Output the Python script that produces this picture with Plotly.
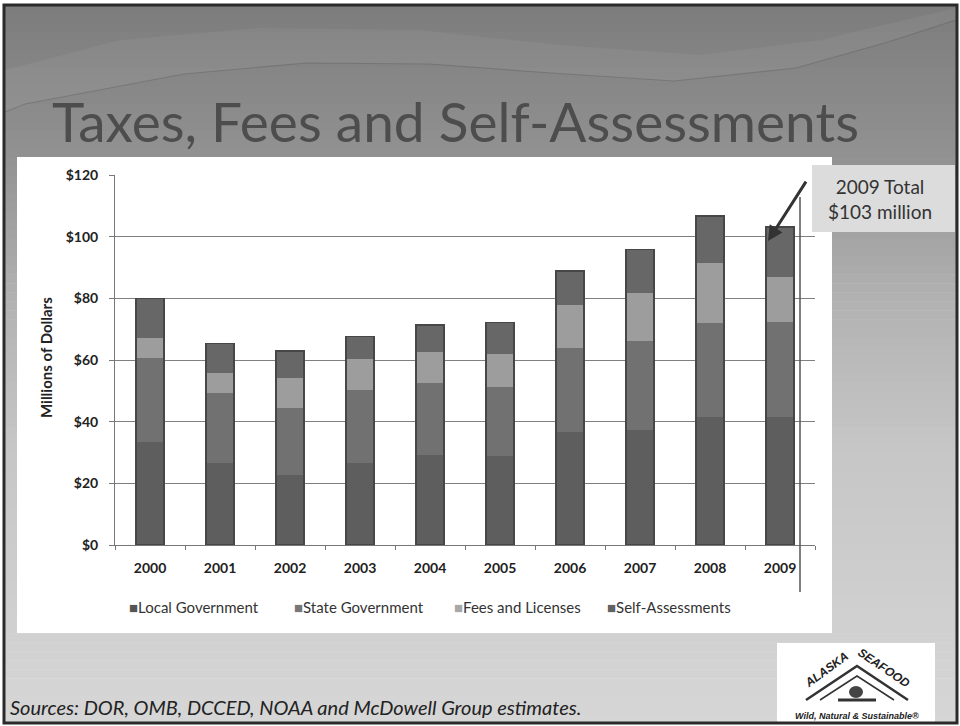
import plotly.graph_objects as go

# Seafood industry taxes, fees and self-assessments, millions of dollars
years = ["2000", "2001", "2002", "2003", "2004", "2005", "2006", "2007", "2008", "2009"]
local_government = [33.5, 26.5, 22.7, 26.5, 29.2, 28.9, 36.8, 37.3, 41.6, 41.6]
state_government = [27.0, 22.7, 21.6, 23.8, 23.2, 22.4, 27.2, 29.0, 30.5, 30.6]
fees_and_licenses = [6.5, 6.5, 9.8, 10.0, 10.1, 10.5, 13.8, 15.5, 19.3, 14.6]
self_assessments = [13.0, 9.7, 8.9, 7.3, 8.9, 10.3, 11.1, 14.1, 15.3, 16.3]
series_names = ["Local Government", "State Government", "Fees and Licenses", "Self-Assessments"]
y_ticks = [0, 20, 40, 60, 80, 100, 120]

totals = [round(a + b + c + d, 1) for a, b, c, d in
          zip(local_government, state_government, fees_and_licenses, self_assessments)]

W, H = 960, 726
L, R, T, B = 115, 815, 175, 545  # plot area in pixels


def px(x):
    return (x - L) / (R - L)


def py(y):
    return (B - y) / (B - T)


fill_colors = ["#5e5e5e", "#717171", "#9d9d9d", "#676767"]
legend_colors = ["#555555", "#777777", "#a8a8a8", "#626262"]
series_values = [local_government, state_government, fees_and_licenses, self_assessments]

fig = go.Figure()
for name, vals, col in zip(series_names, series_values, fill_colors):
    fig.add_trace(go.Bar(x=years, y=vals, name=name, width=0.4,
                         marker=dict(color=col, line=dict(width=0)),
                         showlegend=False))

# dark outline around each full column
fig.add_trace(go.Bar(x=years, y=totals, xaxis="x2", width=0.4, showlegend=False,
                     marker=dict(color="rgba(0,0,0,0)", line=dict(color="#474747", width=1.5)),
                     hoverinfo="skip"))

shapes = []

# slide background: vertical grey gradient
stops = [(5, 124), (160, 146), (300, 178), (450, 198), (723, 214)]
n = 80
for i in range(n):
    y0 = 5 + (723 - 5) * i / n
    y1 = 5 + (723 - 5) * (i + 1) / n + 0.6
    ym = (y0 + y1) / 2
    for (a, ca), (b, cb) in zip(stops[:-1], stops[1:]):
        if a <= ym <= b:
            g = int(round(ca + (cb - ca) * (ym - a) / (b - a)))
            break
    c = f"rgb({g},{g},{g})"
    shapes.append(dict(type="rect", xref="paper", yref="paper", layer="below",
                       x0=px(5), x1=px(956), y0=py(y1), y1=py(y0),
                       fillcolor=c, line=dict(width=0)))


def path_from(points):
    return "M " + " L ".join(f"{px(x)},{py(y)}" for x, y in points)


# soft swoosh across the header
band_top = [(5, 70), (120, 40), (260, 28), (420, 30), (560, 45), (700, 55), (820, 40), (956, 8)]
band_bot = [(956, 20), (888, 42), (796, 68), (674, 81), (551, 73), (429, 64), (306, 63), (184, 74), (25, 104), (5, 112)]
shapes.append(dict(type="path", xref="paper", yref="paper", layer="below",
                   path=path_from(band_top + band_bot) + " Z",
                   fillcolor="rgba(255,255,255,0.05)", line=dict(width=0)))
shapes.append(dict(type="path", xref="paper", yref="paper", layer="below",
                   path=path_from(list(reversed(band_bot))),
                   line=dict(color="rgba(80,80,80,0.3)", width=1.2)))

# white chart panel
shapes.append(dict(type="rect", xref="paper", yref="paper", layer="below",
                   x0=px(17), x1=px(832), y0=py(633), y1=py(157),
                   fillcolor="#ffffff", line=dict(width=0)))

# logo panel
shapes.append(dict(type="rect", xref="paper", yref="paper", layer="below",
                   x0=px(777), x1=px(935), y0=py(722), y1=py(643),
                   fillcolor="#ffffff", line=dict(width=0)))
# logo mountain outline and wave
shapes.append(dict(type="path", xref="paper", yref="paper",
                   path=path_from([(806, 700), (857, 666), (908, 700)]),
                   line=dict(color="#333333", width=2.5)))
shapes.append(dict(type="path", xref="paper", yref="paper",
                   path=path_from([(820, 700), (857, 676), (894, 700)]),
                   line=dict(color="#333333", width=1.5)))
shapes.append(dict(type="path", xref="paper", yref="paper",
                   path=path_from([(838, 700), (876, 700)]),
                   line=dict(color="#333333", width=3)))
shapes.append(dict(type="circle", xref="paper", yref="paper",
                   x0=px(849), x1=px(863), y0=py(698), y1=py(686),
                   fillcolor="#444444", line=dict(width=0)))

# callout box
shapes.append(dict(type="rect", xref="paper", yref="paper",
                   x0=px(812), x1=px(955), y0=py(232), y1=py(165),
                   fillcolor="#dcdcdc", line=dict(width=0)))
# vertical rule beside the last column
shapes.append(dict(type="line", xref="paper", yref="paper",
                   x0=px(800), x1=px(800), y0=py(197), y1=py(592),
                   line=dict(color="#555555", width=1.5)))

# outer frame
shapes.append(dict(type="rect", xref="paper", yref="paper",
                   x0=px(4), x1=px(957), y0=py(723), y1=py(5),
                   fillcolor="rgba(0,0,0,0)", line=dict(color="#2a2a2a", width=3)))

annotations = []
annotations.append(dict(text="Taxes, Fees and Self-Assessments", xref="paper", yref="paper",
                        x=px(50), y=py(121), xanchor="left", yanchor="middle", showarrow=False,
                        font=dict(family="Lato", size=55, color="#4d4d4d")))

# legend row
legend_x = [127, 292, 452, 605]
for name, col, lx in zip(series_names, legend_colors, legend_x):
    annotations.append(dict(text=f"<span style='color:{col}'>■</span>{name}",
                            xref="paper", yref="paper", x=px(lx), y=py(607),
                            xanchor="left", yanchor="middle", showarrow=False,
                            font=dict(family="Lato", size=15, color="#333333")))

# total callout with arrow to the 2009 column
annotations.append(dict(text="2009 Total<br>$103 million", xref="paper", yref="paper",
                        x=px(880), y=py(199), xanchor="center", yanchor="middle",
                        showarrow=False, align="center",
                        font=dict(family="Lato", size=19, color="#333333")))
annotations.append(dict(text=" ", x=px(768), y=py(241), xref="paper", yref="paper",
                        ax=41, ay=-64, axref="pixel", ayref="pixel",
                        showarrow=True, arrowhead=2, arrowsize=1.0, arrowwidth=3,
                        arrowcolor="#333333", standoff=0, startstandoff=0))

annotations.append(dict(text="<i>Sources: DOR, OMB, DCCED, NOAA and McDowell Group estimates.</i>",
                        xref="paper", yref="paper", x=px(8), y=py(707),
                        xanchor="left", yanchor="middle", showarrow=False,
                        font=dict(family="Lato", size=20, color="#222222")))

annotations.append(dict(text="<b><i>ALASKA</i></b>", xref="paper", yref="paper",
                        x=px(826), y=py(670), xanchor="center", yanchor="middle",
                        showarrow=False, textangle=-36,
                        font=dict(family="Liberation Sans", size=12, color="#222222")))
annotations.append(dict(text="<b><i>SEAFOOD</i></b>", xref="paper", yref="paper",
                        x=px(884), y=py(668), xanchor="center", yanchor="middle",
                        showarrow=False, textangle=34,
                        font=dict(family="Liberation Sans", size=12, color="#222222")))
annotations.append(dict(text="<b><i>Wild, Natural & Sustainable®</i></b>", xref="paper", yref="paper",
                        x=px(857), y=py(716), xanchor="center", yanchor="middle",
                        showarrow=False,
                        font=dict(family="Liberation Sans", size=9, color="#222222")))

annotations.append(dict(text="<b>Millions of Dollars</b>", xref="paper", yref="paper",
                        x=px(46), y=py(358), xanchor="center", yanchor="middle",
                        textangle=-90, showarrow=False,
                        font=dict(family="Lato", size=15, color="#222222")))

fig.update_layout(
    width=W, height=H,
    margin=dict(l=L, r=W - R, t=T, b=H - B, pad=0),
    paper_bgcolor="#ffffff", plot_bgcolor="rgba(0,0,0,0)",
    barmode="stack", showlegend=False,
    shapes=shapes, annotations=annotations,
    font=dict(family="Lato", color="#222222"),
    xaxis=dict(type="category", categoryorder="array", categoryarray=years,
               tickvals=years, ticktext=[f"<b>{y}</b>" for y in years],
               range=[-0.5, 9.5], showline=True, linecolor="#777777", linewidth=1,
               ticks="outside", tickson="boundaries", ticklen=4, tickcolor="#777777",
               showgrid=False, tickfont=dict(family="Lato", size=14, color="#222222"),
               ticklabelstandoff=10),
    xaxis2=dict(type="category", categoryorder="array", categoryarray=years,
                range=[-0.5, 9.5], overlaying="x", visible=False),
    yaxis=dict(range=[0, 120], tickvals=y_ticks, ticktext=[f"<b>${v}</b>" for v in y_ticks],
               showline=True, linecolor="#777777", linewidth=1,
               ticks="outside", ticklen=5, tickcolor="#777777",
               showgrid=True, gridcolor="#808080", gridwidth=1, zeroline=False,
               tickfont=dict(family="Lato", size=14, color="#222222"),
               ticklabelstandoff=8),
)

fig.write_html("out.html")
